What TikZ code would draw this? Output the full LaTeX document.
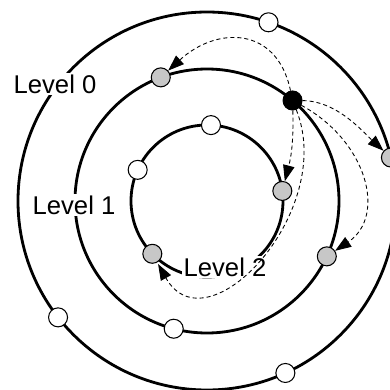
\documentclass[tikz,border=0pt]{standalone}
\usepackage{fontspec}
\setmainfont{Liberation Sans}
\usetikzlibrary{arrows.meta}

\begin{document}
\begin{tikzpicture}[x=0.02cm,y=0.02cm, every node/.style={font=\fontsize{14.6}{17}\selectfont},
  ring/.style={line width=1.6pt},
  peer/.style={draw,circle,line width=0.6pt,minimum size=0.38cm,inner sep=0pt,fill=white},
  hit/.style={peer,fill=black!22},
  origin/.style={peer,fill=black},
  lvl/.style={fill=white,inner sep=1pt},
  lookup/.style={dash pattern=on 2.3pt off 1.7pt,line width=0.5pt,-{Triangle[length=3.2mm,width=2.3mm]}}]
  \useasboundingbox (-207,-189) rectangle (183,201);
  % rings
  \draw[ring] (0,0) circle (189);
  \draw[ring] (0,0) circle (132);
  \draw[ring] (0,0) circle (76);
  % labels
  \node[lvl] (lvl0) at (-152,117) {Level 0};
  \node[lvl] (lvl1) at (-133,-4) {Level 1};
  \node[lvl] (lvl2) at (18,-66) {Level 2};
  % free peers
  \foreach \a/\r/\n in {71/189/p1, 218/189/p2, 294.5/189/p3, 255.4/132/p4, 87/76/p5, 155.8/76/p6}
    \node[peer] (\n) at (\a:\r) {};
  % lookup peers
  \node[hit] (h0) at (13.3:189) {};
  \node[hit] (h1) at (110.5:132) {};
  \node[hit] (h2) at (335.2:132) {};
  \node[hit] (h3) at (7.6:76) {};
  \node[hit] (h4) at (224:76) {};
  \node[origin] (s) at (49.6:132) {};
  % lookups
  \draw[lookup] (s) .. controls (70,175) and (10,175) .. (h1);
  \draw[lookup] (s) .. controls (130,100) and (155,70) .. (h0);
  \draw[lookup] (s) .. controls (160,60) and (180,-15) .. (h2);
  \draw[lookup] (s) to[bend left=8] (h3);
  \draw[lookup,shorten >=1pt] (s) .. controls (130,-10) and (0,-150) .. (h4);
\end{tikzpicture}
\end{document}
